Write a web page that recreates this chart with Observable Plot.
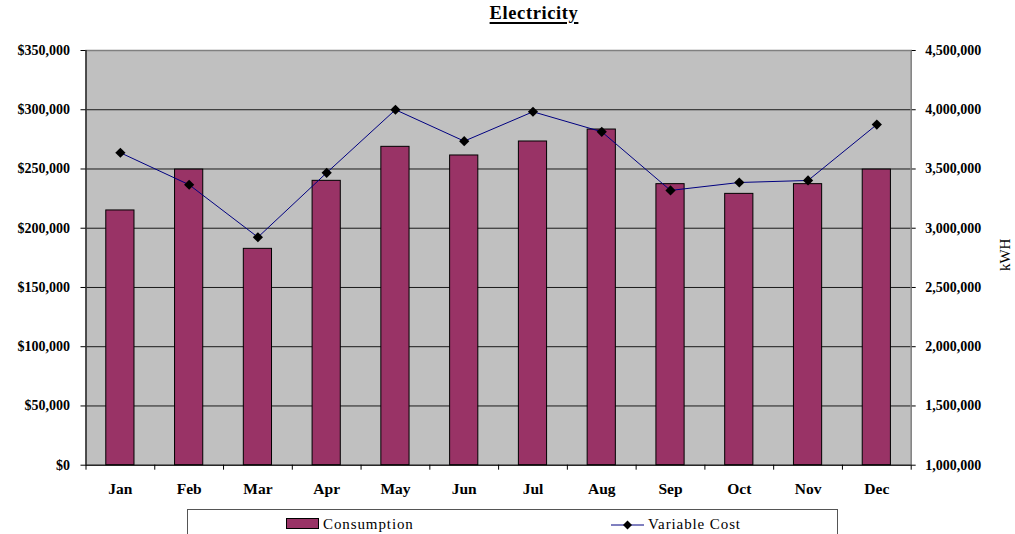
<!DOCTYPE html>
<html>
<head>
<meta charset="utf-8">
<script src="https://cdn.jsdelivr.net/npm/d3@7"></script>
<script src="https://cdn.jsdelivr.net/npm/@observablehq/plot@0.6"></script>
<style>
  body { margin: 0; background: #fff; }
  #wrap { position: relative; width: 1015px; height: 534px; overflow: hidden; font-family: "Liberation Serif", "Times New Roman", serif; color: #000; }
  #title { position: absolute; left: 534px; top: 3px; transform: translateX(-50%); font-weight: bold; font-size: 18.5px; letter-spacing: 0.6px; text-decoration: underline; text-decoration-thickness: 1.5px; text-underline-offset: 3px; white-space: nowrap; }
  #chart { position: absolute; left: 0; top: 0; }
  #legend { position: absolute; left: 187px; top: 509px; width: 651px; height: 40px; border: 1px solid #555; box-sizing: border-box; background: #fff; }
  .sw { position: absolute; }
  .lt { position: absolute; font-size: 15px; line-height: 15px; letter-spacing: 0.9px; white-space: nowrap; }
</style>
</head>
<body>
<div id="wrap">
  <div id="chart"></div>
  <div id="title">Electricity</div>
  <div id="legend"></div>
</div>
<script>
// ---- data ----
const months = ["Jan", "Feb", "Mar", "Apr", "May", "Jun", "Jul", "Aug", "Sep", "Oct", "Nov", "Dec"];
const consumptionKWh = [3150000, 3495000, 2826000, 3400000, 3687000, 3614000, 3732000, 3833000, 3372000, 3290000, 3372000, 3495000];
const variableCost = [263700, 236700, 192400, 246800, 300000, 273500, 298300, 281400, 231900, 238600, 240300, 287500];
const costTicks = [0, 50000, 100000, 150000, 200000, 250000, 300000, 350000];
const kwhTicks = [1000000, 1500000, 2000000, 2500000, 3000000, 3500000, 4000000, 4500000];
const seriesNames = ["Consumption", "Variable Cost"];
const axisTitleRight = "kWH";

// ---- layout ----
const W = 1015, H = 505;
const mL = 85.5, mR = 104.3, mT = 50, mB = 40.3;
const step = (W - mL - mR) / months.length;

const costMax = costTicks[costTicks.length - 1];
const kwhMin = kwhTicks[0], kwhMax = kwhTicks[kwhTicks.length - 1];
const kwhToCost = v => (v - kwhMin) / (kwhMax - kwhMin) * costMax;

const data = months.map((m, i) => ({month: m, kwh: consumptionKWh[i], cost: variableCost[i]}));

const fontFamily = '"Liberation Serif", "Times New Roman", serif';
const dollar = d3.format("$,");
const comma = d3.format(",");

const plot = Plot.plot({
  width: W,
  height: H,
  marginLeft: mL,
  marginRight: mR,
  marginTop: mT,
  marginBottom: mB,
  style: {fontFamily, fontSize: "14px", background: "transparent", color: "#000"},
  x: {type: "band", domain: months, paddingInner: 0.59, paddingOuter: 0.295, round: false, label: null},
  y: {domain: [0, costMax], label: null},
  marks: [
    Plot.frame({fill: "#c0c0c0"}),
    Plot.ruleY(costTicks.slice(1, -1), {stroke: "#1a1a1a", strokeWidth: 1}),
    Plot.frame({stroke: "#808080", strokeWidth: 1.5}),
    Plot.barY(data, {x: "month", y1: 0, y2: d => kwhToCost(d.kwh), fill: "#993366", stroke: "#000", strokeWidth: 1}),
    Plot.line(data, {x: "month", y: "cost", stroke: "#000080", strokeWidth: 1}),
    Plot.dot(data, {x: "month", y: "cost", symbol: "diamond2", r: 4.6, fill: "#000", stroke: "none"}),
    // left axis line
    Plot.ruleX([months[0]], {dx: -step / 2, stroke: "#000", strokeWidth: 1}),
    // bottom axis line
    Plot.ruleY([0], {stroke: "#000", strokeWidth: 1}),
    // category boundary ticks
    Plot.ruleX(months, {x: d => d, y1: 0, y2: 0, insetBottom: -5, dx: -step / 2, stroke: "#000"}),
    Plot.ruleX([months[months.length - 1]], {x: d => d, y1: 0, y2: 0, insetBottom: -5, dx: step / 2, stroke: "#000"}),
    Plot.axisX({tickSize: 0, tickPadding: 18, fontSize: 15.5, fontWeight: "bold", label: null}),
    Plot.axisY(costTicks, {anchor: "left", tickSize: 5, tickPadding: 11, tickFormat: dollar, fontSize: 14, fontWeight: "bold", label: null}),
    Plot.axisY(costTicks, {anchor: "right", tickSize: 4, tickPadding: 10, tickFormat: (d, i) => comma(kwhTicks[i]), fontSize: 14, fontWeight: "bold", label: null}),
    Plot.text([axisTitleRight], {text: d => d, frameAnchor: "right", dx: 94, dy: -3, rotate: -90, fontSize: 15, textAnchor: "middle", fill: "#000"})
  ]
});
document.getElementById("chart").appendChild(plot);

// ---- legend ----
const legend = document.getElementById("legend");
legend.innerHTML = `
  <div class="sw" style="left:98px;top:8px;width:33px;height:11px;background:#993366;border:1px solid #000;box-sizing:border-box;"></div>
  <div class="lt" style="left:135px;top:7px;">${seriesNames[0]}</div>
  <svg class="sw" style="left:423px;top:8px;" width="33" height="14">
    <line x1="0" x2="33" y1="7" y2="7" stroke="#000080" stroke-width="1"/>
    <path d="M16.5,2.5L21,7L16.5,11.5L12,7Z" fill="#000"/>
  </svg>
  <div class="lt" style="left:460px;top:7px;">${seriesNames[1]}</div>
`;
</script>
</body>
</html>
